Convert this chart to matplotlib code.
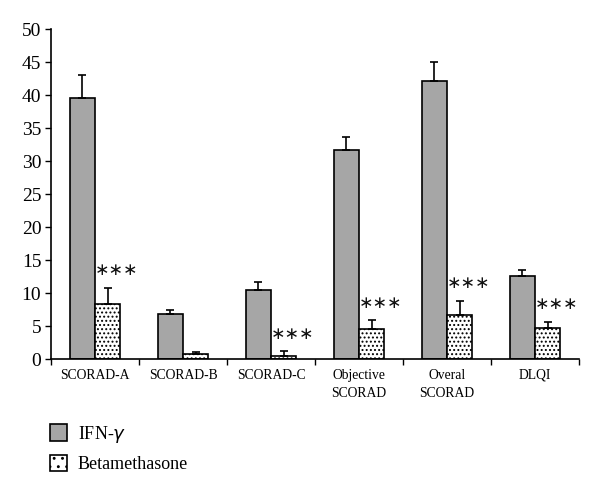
import numpy as np
import matplotlib
matplotlib.use("Agg")
import matplotlib.pyplot as plt
from matplotlib.patches import Patch

plt.rcParams["font.family"] = ["Liberation Serif", "DejaVu Serif"]
plt.rcParams["hatch.linewidth"] = 0.9

categories = ["SCORAD-A", "SCORAD-B", "SCORAD-C", "Objective\nSCORAD", "Overal\nSCORAD", "DLQI"]
ifn_mean = [39.5, 6.8, 10.5, 31.7, 42.2, 12.6]
ifn_err = [3.6, 0.6, 1.2, 1.9, 2.8, 0.9]
beta_mean = [8.3, 0.8, 0.5, 4.5, 6.7, 4.7]
beta_err = [2.5, 0.3, 0.7, 1.4, 2.1, 1.0]
signif = ["***", "", "***", "***", "***", "***"]

fig = plt.figure(figsize=(6.0, 4.92), dpi=100)
ax = fig.add_axes([0.085, 0.27, 0.88, 0.671])

x = np.arange(len(categories))
w = 0.285
ax.bar(x - w / 2, ifn_mean, w, color="#a6a6a6", edgecolor="black", linewidth=1.2,
       yerr=[np.zeros(len(x)), ifn_err], capsize=3,
       error_kw=dict(elinewidth=1.2, capthick=1.2, ecolor="black"))
ax.bar(x + w / 2, beta_mean, w, color="white", edgecolor="black", linewidth=1.2, hatch="....",
       yerr=[np.zeros(len(x)), beta_err], capsize=3,
       error_kw=dict(elinewidth=1.2, capthick=1.2, ecolor="black"))

for xi, m, e, s in zip(x, beta_mean, beta_err, signif):
    if s:
        ax.text(xi + w / 2 + 0.1, m + e + 1.3, s.replace("*", "\u2217"), ha="center",
                va="bottom", fontsize=12.5, family="DejaVu Sans", color="#111111")

ax.set_xlim(-0.5, len(categories) - 0.5)
ax.set_ylim(0, 50)
ax.set_yticks(np.arange(0, 51, 5))
ax.tick_params(axis="y", labelsize=14, direction="out", length=4, width=1, pad=3)
ax.set_xticks(np.arange(-0.5, len(categories), 1.0))
ax.set_xticklabels([])
ax.tick_params(axis="x", direction="out", length=4, width=1)
ax.set_xticks(x, minor=True)
ax.set_xticklabels(categories, minor=True, fontsize=9.8, linespacing=1.5, va="top")
ax.tick_params(axis="x", which="minor", length=0, pad=7)
for side in ["top", "right"]:
    ax.spines[side].set_visible(False)
for side in ["left", "bottom"]:
    ax.spines[side].set_linewidth(1.2)

handles = [Patch(facecolor="#a6a6a6", edgecolor="black", linewidth=1.2),
           Patch(facecolor="white", edgecolor="black", linewidth=1.2, hatch="..")]
fig.legend(handles, ["IFN-$\\gamma$", "Betamethasone"], loc="upper left",
           bbox_to_anchor=(0.056, 0.172), frameon=False, fontsize=13,
           handlelength=0.95, handleheight=1.0, handletextpad=0.6, labelspacing=0.55)

fig.savefig("out.png", dpi=100)
